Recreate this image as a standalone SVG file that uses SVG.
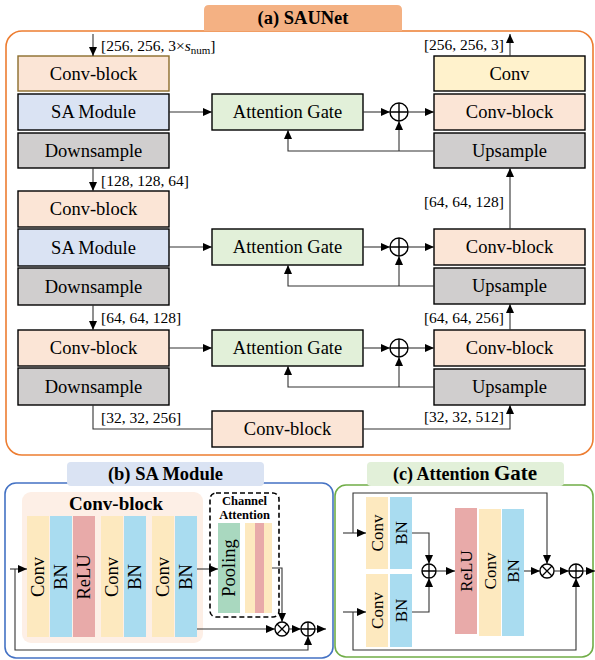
<svg xmlns="http://www.w3.org/2000/svg" width="595" height="660" viewBox="0 0 595 660">
<defs>
<marker id="ah" markerUnits="userSpaceOnUse" markerWidth="9" markerHeight="8" refX="9" refY="4" orient="auto">
<path d="M0,0 L9,4 L0,8 z" fill="#000"/>
</marker>
<style>
text{font-family:"Liberation Serif","Times New Roman",serif;fill:#000}
.t{font-size:18.5px;text-anchor:middle;dominant-baseline:central}
.lb{font-size:15.5px}
.bt{font-weight:bold;text-anchor:middle}
.box{stroke:#000;stroke-width:1.4}
.cb{fill:#fbe5d6}
.sa{fill:#dae3f3}
.gr{fill:#d0cece}
.ag{fill:#e2f0d9}
.cv{fill:#fff2cc}
.ln{fill:none;stroke:#333;stroke-width:1.1}
.ar{marker-end:url(#ah)}
.op{fill:#fff;stroke:#000;stroke-width:1.4}
.s-cv{fill:#fde9bf}
.s-bn{fill:#a9dcf0}
.s-re{fill:#e8aaa9}
.s-po{fill:#a9d8bf}
.st{font-size:18.5px;text-anchor:middle;dominant-baseline:central}
.st2{font-size:17px;text-anchor:middle;dominant-baseline:central}
</style>
</defs>

<!-- Panel (a) frame -->
<g id="panel-a">
<rect x="6" y="31" width="587" height="424" rx="16" fill="none" stroke="#ed7d31" stroke-width="1.6"/>
<path d="M204,31 L204,10 Q204,5 209,5 L397,5 Q402,5 402,10 L402,31 z" fill="#f4b183"/>
<text x="303" y="24" class="bt" style="font-size:18.5px">(a) SAUNet</text>
</g>

<!-- Encoder -->
<g id="enc1-conv"><rect x="18" y="56" width="151" height="35" class="cb" stroke="#8c6d2c" stroke-width="1.4"/><text x="93.5" y="74" class="t">Conv-block</text></g>
<g id="enc1-sa"><rect x="18" y="94" width="151" height="36" class="box sa"/><text x="93.5" y="112" class="t">SA Module</text></g>
<g id="enc1-down"><rect x="18" y="133" width="151" height="35" class="box gr"/><text x="93.5" y="151" class="t">Downsample</text></g>

<g id="enc2-conv"><rect x="18" y="191" width="151" height="36" class="box cb"/><text x="93.5" y="209" class="t">Conv-block</text></g>
<g id="enc2-sa"><rect x="18" y="229" width="151" height="37" class="box sa"/><text x="93.5" y="247.5" class="t">SA Module</text></g>
<g id="enc2-down"><rect x="18" y="268" width="151" height="37" class="box gr"/><text x="93.5" y="286.5" class="t">Downsample</text></g>

<g id="enc3-conv"><rect x="18" y="330" width="151" height="36" class="box cb"/><text x="93.5" y="348" class="t">Conv-block</text></g>
<g id="enc3-down"><rect x="18" y="368" width="151" height="37" class="box gr"/><text x="93.5" y="386.5" class="t">Downsample</text></g>

<g id="bottleneck"><rect x="212" y="411" width="151" height="36" class="box cb"/><text x="287.5" y="429" class="t">Conv-block</text></g>

<!-- Attention gates -->
<g id="ag1"><rect x="212" y="94" width="151" height="36" class="box ag"/><text x="287.5" y="112" class="t">Attention Gate</text></g>
<g id="ag2"><rect x="212" y="229" width="151" height="36" class="box ag"/><text x="287.5" y="247" class="t">Attention Gate</text></g>
<g id="ag3"><rect x="212" y="330" width="151" height="36" class="box ag"/><text x="287.5" y="348" class="t">Attention Gate</text></g>

<!-- Add ops -->
<g id="add1"><circle cx="399" cy="112" r="9" class="op"/><path d="M390,112 H408 M399,103 V121" stroke="#000" stroke-width="1.4"/></g>
<g id="add2"><circle cx="399" cy="247" r="9" class="op"/><path d="M390,247 H408 M399,238 V256" stroke="#000" stroke-width="1.4"/></g>
<g id="add3"><circle cx="399" cy="348" r="9" class="op"/><path d="M390,348 H408 M399,339 V357" stroke="#000" stroke-width="1.4"/></g>

<!-- Decoder -->
<g id="dec-conv"><rect x="434" y="56" width="151" height="35" class="box cv"/><text x="509.5" y="74" class="t">Conv</text></g>
<g id="dec1-conv"><rect x="434" y="94" width="151" height="36" class="box cb"/><text x="509.5" y="112" class="t">Conv-block</text></g>
<g id="dec1-up"><rect x="434" y="133" width="151" height="35" class="box gr"/><text x="509.5" y="151" class="t">Upsample</text></g>
<g id="dec2-conv"><rect x="434" y="229" width="151" height="36" class="box cb"/><text x="509.5" y="247" class="t">Conv-block</text></g>
<g id="dec2-up"><rect x="434" y="268" width="151" height="36" class="box gr"/><text x="509.5" y="286" class="t">Upsample</text></g>
<g id="dec3-conv"><rect x="434" y="330" width="151" height="36" class="box cb"/><text x="509.5" y="348" class="t">Conv-block</text></g>
<g id="dec3-up"><rect x="434" y="369" width="151" height="36" class="box gr"/><text x="509.5" y="387" class="t">Upsample</text></g>

<!-- Labels -->
<g id="labels-a">
<text x="101" y="51" class="lb">[256, 256, 3×<tspan font-style="italic">s</tspan><tspan font-size="11px" dy="3">num</tspan><tspan dy="-3">]</tspan></text>
<text x="504" y="50" class="lb" text-anchor="end">[256, 256, 3]</text>
<text x="101" y="186" class="lb">[128, 128, 64]</text>
<text x="504" y="207" class="lb" text-anchor="end">[64, 64, 128]</text>
<text x="101" y="323" class="lb">[64, 64, 128]</text>
<text x="504" y="323" class="lb" text-anchor="end">[64, 64, 256]</text>
<text x="101" y="423" class="lb">[32, 32, 256]</text>
<text x="504" y="422" class="lb" text-anchor="end">[32, 32, 512]</text>
</g>

<!-- Connectors (a) -->
<g id="connectors-a">
<path d="M93,34 V56" class="ln ar"/>
<path d="M93,168 V191" class="ln ar"/>
<path d="M93,305 V330" class="ln ar"/>
<path d="M93,405 V429 H212" class="ln"/>
<path d="M363,429 H510 V405" class="ln ar"/>
<path d="M510,56 V34" class="ln ar"/>
<path d="M510,229 V168" class="ln ar"/>
<path d="M510,330 V304" class="ln ar"/>
<path d="M169,112 H212" class="ln ar"/>
<path d="M169,247 H212" class="ln ar"/>
<path d="M169,348 H212" class="ln ar"/>
<path d="M363,112 H390" class="ln ar"/>
<path d="M363,247 H390" class="ln ar"/>
<path d="M363,348 H390" class="ln ar"/>
<path d="M408,112 H434" class="ln ar"/>
<path d="M408,247 H434" class="ln ar"/>
<path d="M408,348 H434" class="ln ar"/>
<path d="M434,151 H288 V130" class="ln ar"/>
<path d="M399,151 V121" class="ln ar"/>
<path d="M434,286 H288 V265" class="ln ar"/>
<path d="M399,286 V256" class="ln ar"/>
<path d="M434,387 H288 V366" class="ln ar"/>
<path d="M399,387 V357" class="ln ar"/>
</g>

<!-- Panel (b) -->
<g id="panel-b">
<rect x="5" y="483" width="328" height="175" rx="11" fill="none" stroke="#4472c4" stroke-width="1.6"/>
<rect x="67" y="462" width="197" height="24" rx="4" fill="#dae3f3"/>
<text x="165.5" y="480" class="bt" style="font-size:18.5px">(b) SA Module</text>
</g>
<g id="b-convblock">
<rect x="22" y="492" width="181" height="151" rx="9" fill="#fdefe6"/>
<text x="116" y="510" class="bt" style="font-size:19px">Conv-block</text>
<rect x="27" y="516" width="22" height="121" class="s-cv"/><text transform="translate(38,577) rotate(-90)" class="st">Conv</text>
<rect x="50" y="516" width="22" height="121" class="s-bn"/><text transform="translate(61,577) rotate(-90)" class="st">BN</text>
<rect x="73" y="516" width="22" height="121" class="s-re"/><text transform="translate(84,577) rotate(-90)" class="st">ReLU</text>
<rect x="101" y="516" width="22" height="121" class="s-cv"/><text transform="translate(112,577) rotate(-90)" class="st">Conv</text>
<rect x="124" y="516" width="22" height="121" class="s-bn"/><text transform="translate(135,577) rotate(-90)" class="st">BN</text>
<rect x="152" y="516" width="22" height="121" class="s-cv"/><text transform="translate(163,577) rotate(-90)" class="st">Conv</text>
<rect x="175" y="516" width="22" height="121" class="s-bn"/><text transform="translate(186,577) rotate(-90)" class="st">BN</text>
</g>
<g id="b-channel-attention">
<rect x="210" y="493" width="69" height="124" rx="6" fill="none" stroke="#000" stroke-width="1.6" stroke-dasharray="5,3"/>
<text x="244.5" y="505" class="bt" style="font-size:12.5px">Channel</text>
<text x="244.5" y="518.5" class="bt" style="font-size:12.5px">Attention</text>
<rect x="218" y="523" width="22" height="90" class="s-po"/><text transform="translate(229,568) rotate(-90)" class="st">Pooling</text>
<rect x="245" y="523" width="10" height="90" class="s-cv"/>
<rect x="255" y="523" width="9" height="90" class="s-re"/>
<rect x="264" y="523" width="8" height="90" class="s-cv"/>
</g>
<g id="b-mul"><circle cx="282" cy="629" r="7" class="op"/><path d="M277,624 L287,634 M287,624 L277,634" stroke="#000" stroke-width="1.3"/></g>
<g id="b-add"><circle cx="308" cy="629" r="7" class="op"/><path d="M301,629 H315 M308,622 V636" stroke="#000" stroke-width="1.3"/></g>
<g id="connectors-b">
<path d="M10,569 H27" class="ln ar"/>
<path d="M15,569 V650 H308 V636" class="ln ar"/>
<path d="M197,569 H218" class="ln ar"/>
<path d="M272,568 H282 V622" class="ln ar"/>
<path d="M197,629 H275" class="ln ar"/>
<path d="M289,629 H301" class="ln ar"/>
<path d="M315,629 H326" class="ln ar"/>
</g>

<!-- Panel (c) -->
<g id="panel-c">
<rect x="335" y="485" width="258" height="172" rx="11" fill="none" stroke="#70ad47" stroke-width="1.6"/>
<rect x="367" y="462" width="197" height="24" rx="4" fill="#e2f0d9"/>
<text x="465" y="480" class="bt" style="font-size:18px">(c) Attention <tspan style="font-size:21px">Gate</tspan></text>
</g>
<g id="c-branch1">
<rect x="366" y="497" width="22" height="72" class="s-cv"/><text transform="translate(377,533) rotate(-90)" class="st2">Conv</text>
<rect x="390" y="497" width="22" height="72" class="s-bn"/><text transform="translate(401,533) rotate(-90)" class="st2">BN</text>
</g>
<g id="c-branch2">
<rect x="366" y="574" width="22" height="73" class="s-cv"/><text transform="translate(377,610.5) rotate(-90)" class="st2">Conv</text>
<rect x="390" y="574" width="22" height="73" class="s-bn"/><text transform="translate(401,610.5) rotate(-90)" class="st2">BN</text>
</g>
<g id="c-psi">
<rect x="455" y="508" width="22" height="126" class="s-re"/><text transform="translate(466,571) rotate(-90)" class="st2">ReLU</text>
<rect x="479" y="509" width="22" height="127" class="s-cv"/><text transform="translate(490,571) rotate(-90)" class="st2">Conv</text>
<rect x="502" y="509" width="22" height="127" class="s-bn"/><text transform="translate(513,571) rotate(-90)" class="st2">BN</text>
</g>
<g id="c-add1"><circle cx="429" cy="571" r="7" class="op"/><path d="M422,571 H436 M429,564 V578" stroke="#000" stroke-width="1.3"/></g>
<g id="c-mul"><circle cx="547" cy="571" r="7" class="op"/><path d="M542,566 L552,576 M552,566 L542,576" stroke="#000" stroke-width="1.3"/></g>
<g id="c-add2"><circle cx="576" cy="571" r="7" class="op"/><path d="M569,571 H583 M576,564 V578" stroke="#000" stroke-width="1.3"/></g>
<g id="connectors-c">
<path d="M343,533 H366" class="ln ar"/>
<path d="M353,533 V493 H547 V564" class="ln ar"/>
<path d="M343,612 H366" class="ln ar"/>
<path d="M353,612 V650 H576 V578" class="ln ar"/>
<path d="M412,533 H429 V564" class="ln ar"/>
<path d="M412,612 H429 V578" class="ln ar"/>
<path d="M436,571 H455" class="ln ar"/>
<path d="M524,571 H540" class="ln ar"/>
<path d="M554,571 H569" class="ln ar"/>
<path d="M583,571 H595" class="ln ar"/>
</g>
</svg>
